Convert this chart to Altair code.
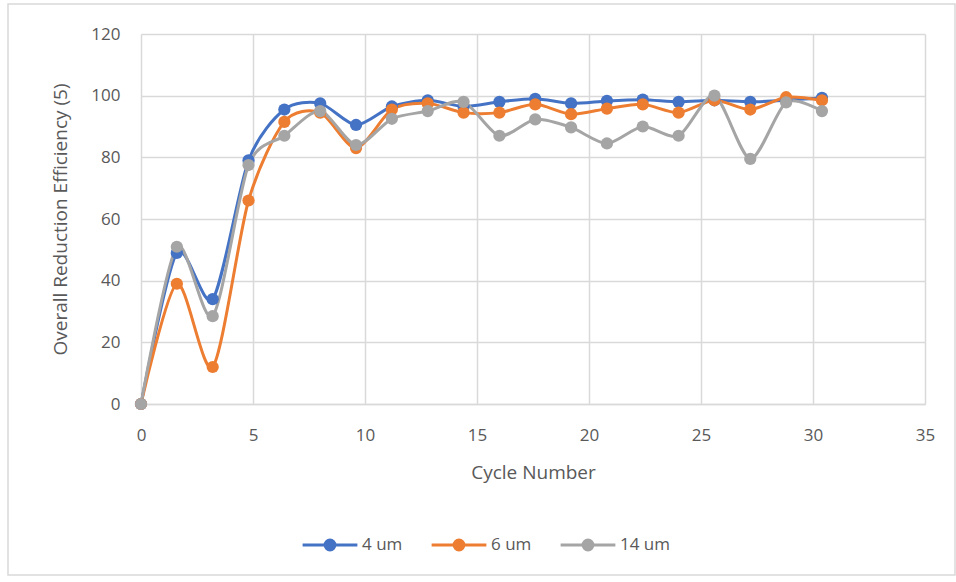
import altair as alt
import pandas as pd

cycles = [0, 1.6, 3.2, 4.8, 6.4, 8.0, 9.6, 11.2, 12.8, 14.4, 16.0, 17.6, 19.2, 20.8, 22.4, 24.0, 25.6, 27.2, 28.8, 30.4]
s4 = [0, 49, 34, 79, 95.5, 97.5, 90.5, 96.5, 98.5, 96.5, 98, 99, 97.5, 98.3, 98.7, 98, 98.5, 98, 98.5, 99.3]
s6 = [0, 39, 12, 66, 91.5, 94.5, 83, 95.5, 97.5, 94.5, 94.5, 97.2, 94, 95.8, 97.2, 94.5, 98.5, 95.5, 99.5, 98.5]
s14 = [0, 51, 28.5, 77.5, 87, 95, 84, 92.5, 95, 98, 87, 92.3, 89.7, 84.5, 90, 87, 100, 79.5, 97.8, 95]
series = ["4 um", "6 um", "14 um"]
colors = ["#4472C4", "#ED7D31", "#A5A5A5"]

rows = []
for name, vals in zip(series, [s4, s6, s14]):
    for c, v in zip(cycles, vals):
        rows.append({"Cycle": c, "Eff": v, "Series": name})
df = pd.DataFrame(rows)

FONT = "Open Sans"
W, H = 784, 370

legend_path = "M-1,0L1,0M-0.18,0A0.18,0.18 0 1,1 0.18,0A0.18,0.18 0 1,1 -0.18,0Z"

color = alt.Color(
    "Series:N",
    scale=alt.Scale(domain=series, range=colors),
    sort=series,
    legend=alt.Legend(
        title=None, orient="none", direction="horizontal",
        legendX=160, legendY=H + 112,
        symbolType=legend_path, symbolSize=3000, symbolStrokeWidth=3,
        labelFont=FONT, labelFontSize=17, labelColor="#595959",
        columnPadding=22, labelOffset=3,
    ),
)

x = alt.X(
    "Cycle:Q",
    scale=alt.Scale(domain=[0, 35], nice=False),
    axis=alt.Axis(
        values=[0, 5, 10, 15, 20, 25, 30, 35], title="Cycle Number",
        labelFont=FONT, labelFontSize=17, labelColor="#595959", labelPadding=23,
        labelFlush=False,
        titleFont=FONT, titleFontSize=19, titleColor="#595959", titleFontWeight="normal",
        titlePadding=20, ticks=False, domainColor="#d9d9d9", domainWidth=1.5,
        gridColor="#d9d9d9", gridWidth=1.5,
    ),
)
y = alt.Y(
    "Eff:Q",
    scale=alt.Scale(domain=[0, 120], nice=False),
    axis=alt.Axis(
        values=[0, 20, 40, 60, 80, 100, 120], title="Overall Reduction Efficiency (5)",
        labelFont=FONT, labelFontSize=17, labelColor="#595959", labelPadding=21,
        labelFlush=False,
        titleFont=FONT, titleFontSize=19, titleColor="#595959", titleFontWeight="normal",
        titlePadding=20, ticks=False, domain=False,
        gridColor="#d9d9d9", gridWidth=1.5,
    ),
)

lines = alt.Chart(df).mark_line(
    interpolate="cardinal", tension=0.2, strokeWidth=3,
    point=alt.OverlayMarkDef(filled=True, size=150, opacity=1),
).encode(x=x, y=y, color=color, order=alt.Order("Cycle:Q"))

frame = alt.Chart(pd.DataFrame({"a": [0]})).mark_rect(
    fill=None, stroke="#d9d9d9", strokeWidth=1.5, clip=False
).encode(
    x=alt.value(-133), x2=alt.value(W + 30),
    y=alt.value(-30), y2=alt.value(H + 171),
)

chart = alt.layer(frame, lines).properties(
    width=W, height=H,
    padding={"left": 141, "top": 34, "right": 956 - 141 - W, "bottom": 582 - 34 - H},
    autosize=alt.AutoSizeParams(type="none"),
    background="white",
).configure_view(stroke=None)

chart.save("out.html", embed_options={"renderer": "svg", "actions": False})
